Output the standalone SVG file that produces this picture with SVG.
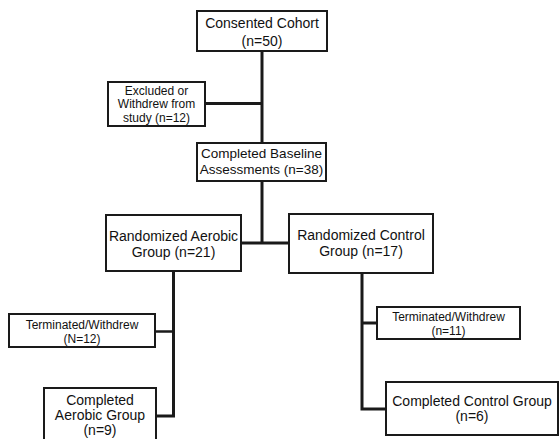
<svg xmlns="http://www.w3.org/2000/svg" width="559" height="439" viewBox="0 0 559 439">
<style>
.box{fill:#fff;stroke:#1a1a1a;stroke-width:2}
.t{font-family:"Liberation Sans",Arial,sans-serif;font-size:14px;fill:#111;text-anchor:middle}
.s{font-size:12px}
.c{fill:none;stroke:#1a1a1a;stroke-width:3}
.c2{fill:none;stroke:#1a1a1a;stroke-width:2.5}
</style>
<rect width="559" height="439" fill="#fff"/>
<g id="connectors">
<path class="c" d="M262 51V143"/>
<path class="c" d="M205 103.5H262"/>
<path class="c" d="M262 181V243"/>
<path class="c" d="M241 243H289"/>
<path class="c" d="M173.5 271V416H157"/>
<path class="c2" d="M155 331.5H173.5"/>
<path class="c" d="M362 273V409H386"/>
<path class="c" d="M362 323H377"/>
</g>
<g id="consented">
<rect class="box" x="197" y="11" width="130" height="40"/>
<text class="t" x="262" y="27.5">Consented Cohort</text>
<text class="t" x="262" y="45.5">(n=50)</text>
</g>
<g id="excluded">
<rect class="box" x="108" y="82" width="97" height="44"/>
<text class="t s" x="156.5" y="94.5">Excluded or</text>
<text class="t s" x="156.5" y="108">Withdrew from</text>
<text class="t s" x="156.5" y="121.5">study (n=12)</text>
</g>
<g id="baseline">
<rect class="box" x="197" y="143" width="129" height="38"/>
<text class="t" x="261.5" y="158" style="font-size:13.5px">Completed Baseline</text>
<text class="t" x="261.5" y="174" style="font-size:13.5px">Assessments (n=38)</text>
</g>
<g id="aerobic">
<rect class="box" x="106" y="215" width="135" height="56"/>
<text class="t" x="173.5" y="241">Randomized Aerobic</text>
<text class="t" x="173.5" y="256.5">Group (n=21)</text>
</g>
<g id="control">
<rect class="box" x="289" y="214" width="144" height="59"/>
<text class="t" x="361" y="240">Randomized Control</text>
<text class="t" x="361" y="255.5">Group (n=17)</text>
</g>
<g id="term-aerobic">
<rect class="box" x="9" y="314" width="146" height="33"/>
<text class="t s" x="82" y="329">Terminated/Withdrew</text>
<text class="t s" x="82" y="342.5">(N=12)</text>
</g>
<g id="term-control">
<rect class="box" x="377" y="307" width="143" height="32"/>
<text class="t s" x="448.5" y="320.5">Terminated/Withdrew</text>
<text class="t s" x="448.5" y="335">(n=11)</text>
</g>
<g id="completed-aerobic">
<rect class="box" x="44" y="388" width="112" height="60"/>
<text class="t" x="100" y="404.5">Completed</text>
<text class="t" x="100" y="419.5">Aerobic Group</text>
<text class="t" x="100" y="435">(n=9)</text>
</g>
<g id="completed-control">
<rect class="box" x="386" y="382" width="172" height="53"/>
<text class="t" x="472" y="405.5">Completed Control Group</text>
<text class="t" x="472" y="420.5">(n=6)</text>
</g>
</svg>
